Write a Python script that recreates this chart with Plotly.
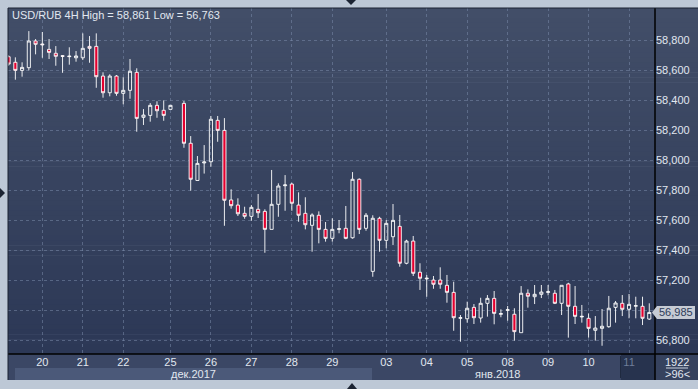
import plotly.graph_objects as go

# ---- data (USD/RUB 4H candles, index = candle slot; slot 25 empty) ----
idx = [0,1,2,3,4,5,6,7,8,9,10,11,12,13,14,15,16,17,18,19,20,21,22,23,24,
       26,27,28,29,30,31,32,33,34,35,36,37,38,39,40,41,42,43,44,45,46,47,48,49,50,
       51,52,53,54,55,56,57,58,59,60,61,62,63,64,65,66,67,68,69,70,71,72,73,74,75,
       76,77,78,79,80,81,82,83,84,85,86,87,88,89,90,91,92,93,94,95]
opens = [58690,58653,58599,58617,58795,58775,58739,58713,58697,58695,58683,58683,58759,58759,58561,58450,58561,58446,58466,58586,58286,58299,58366,58333,58339,
         58379,58113,57865,57982,57990,58266,58199,57735,57701,57646,57626,57673,57659,57539,57706,57830,57841,57701,57646,57566,57633,57539,57479,57539,57546,
         57483,57873,57546,57259,57613,57466,57490,57559,57313,57461,57253,57209,57201,57201,57166,57119,56946,56943,57019,56948,57046,57079,56973,56999,56973,
         56850,57113,57090,57106,57119,57113,57046,57175,57026,56955,56946,56866,56879,56890,57019,57046,57006,57027,57026,56941]
highs = [58700,58686,58653,58861,58808,58855,58808,58761,58701,58753,58728,58846,58828,58846,58586,58573,58568,58553,58675,58613,58341,58381,58393,58399,58366,
         58395,58161,58028,58101,58295,58295,58281,57806,57746,57690,57701,57775,57673,57935,57846,57901,57850,57786,57753,57646,57659,57588,57613,57601,57695,
         57921,57879,57648,57633,57623,57601,57708,57635,57470,57495,57313,57235,57228,57286,57235,57190,56968,57057,57041,57083,57101,57128,57006,57028,57013,
         57161,57139,57168,57168,57168,57135,57166,57183,57161,57035,56979,56961,57008,57095,57061,57101,57108,57090,57090,57046]
lows = [58630,58537,58557,58599,58706,58683,58675,58630,58583,58637,58657,58668,58650,58483,58417,58426,58430,58373,58410,58190,58235,58257,58283,58263,58339,
        58083,57797,57865,57911,57957,58123,57563,57677,57628,57610,57597,57615,57383,57539,57623,57663,57663,57590,57539,57390,57446,57457,57457,57513,57473,
        57477,57508,57530,57223,57390,57413,57435,57290,57306,57228,57135,57090,57143,57143,57050,56863,56790,56917,56908,56917,56957,56906,56953,56930,56797,
        56850,57017,57041,57081,57099,57041,56968,56817,56908,56917,56817,56797,56763,56883,56917,56961,56946,56946,56901,56935]
closes = [58641,58599,58619,58795,58773,58770,58719,58693,58693,58691,58695,58746,58746,58557,58450,58561,58446,58466,58593,58279,58301,58366,58330,58299,58366,
          58113,57873,57979,57988,58273,58199,57733,57697,57643,57626,57686,57650,57539,57706,57828,57835,57713,57633,57570,57635,57539,57479,57539,57543,57479,
          57873,57539,57633,57613,57466,57579,57599,57313,57461,57246,57213,57213,57173,57173,57119,56950,56950,57013,56950,57046,57079,56979,56977,57003,56857,
          57113,57093,57106,57121,57123,57046,57166,57026,56959,56959,56879,56881,56893,57013,57048,57006,57039,57030,56946,56985]

day_pos = [5, 11, 17, 24, 30, 36, 42, 48, 56, 62, 68, 74, 80, 86, 92]
day_labels = ["20", "21", "22", "25", "26", "27", "28", "29", "03", "04", "05", "08", "09", "10", "11"]
price_ticks = [56800, 57000, 57200, 57400, 57600, 57800, 58000, 58200, 58400, 58600, 58800]
title_text = "USD/RUB 4H"
month_labels = ["дек.2017", "янв.2018"]
bars_total = "1922"
bars_visible = ">96<"

# ---- geometry helpers (pixel -> paper) ----
W, H = 698, 389
PX0, PX1, PY0, PY1 = 8, 655, 8, 354


def fx(X):
    return (X - PX0) / (PX1 - PX0)


def fy(Y):
    return (PY1 - Y) / (PY1 - PY0)


def rect(x0, y0, x1, y1, color, line=None):
    return dict(type="rect", xref="paper", yref="paper", x0=fx(x0), x1=fx(x1), y0=fy(y1), y1=fy(y0),
                fillcolor=color, line=dict(width=0) if line is None else line, layer="below")


def hline(x0, x1, y, color, w=1):
    return dict(type="line", xref="paper", yref="paper", x0=fx(x0), x1=fx(x1), y0=fy(y), y1=fy(y),
                line=dict(color=color, width=w), layer="above")


def vline(x, y0, y1, color, w=1):
    return dict(type="line", xref="paper", yref="paper", x0=fx(x), x1=fx(x), y0=fy(y0), y1=fy(y1),
                line=dict(color=color, width=w), layer="above")


def poly(pts, color):
    d = "M " + " L ".join(f"{fx(a):.5f},{fy(b):.5f}" for a, b in pts) + " Z"
    return dict(type="path", xref="paper", yref="paper", path=d, fillcolor=color, line=dict(width=0), layer="above")


shapes = []
# gradient background for plot + right axis area
N = 70
c0 = (66, 78, 104)
c1 = (44, 56, 86)
for k in range(N):
    t = k / (N - 1)
    col = "rgb(%d,%d,%d)" % tuple(round(c0[j] + (c1[j] - c0[j]) * t) for j in range(3))
    ya = PY0 + (PY1 - PY0) * k / N
    yb = PY0 + (PY1 - PY0) * (k + 1) / N + 0.6
    shapes.append(rect(PX0, ya, W, yb, col))

# bottom axis strip
shapes.append(rect(PX0, 354, 655, 380, "#3b4765"))
shapes.append(rect(15, 368, 372, 380, "#4b5979"))
shapes.append(rect(621, 354, 655, 380, "#27334e"))
shapes.append(rect(655, 354, W, 380, "#36425e"))
# frame lines
shapes.append(hline(PX0, W, 354, "#000000", 1.5))
shapes.append(vline(655, 8, 380, "#000000", 1.5))
shapes.append(hline(PX0, W, 8, "#1a2233", 1))
shapes.append(vline(PX0, 8, 380, "#1a2233", 1))
shapes.append(vline(620.5, 356, 378, "#1f2a40", 1))
shapes.append(hline(666, 688, 368, "#c9d2df", 1))
# small navigation triangles on the border
shapes.append(poly([(346, 0), (356, 0), (351, 5)], "#1c2433"))
shapes.append(poly([(347, 389), (357, 389), (352, 383)], "#1c2433"))
shapes.append(poly([(0, 188), (0, 198), (5, 193)], "#1c2433"))

# current price label (arrow box) in data y
last = closes[-1]
hh = 43
shapes.append(dict(type="path", xref="paper", yref="y",
                   path=(f"M {fx(652):.5f},{last} L {fx(657):.5f},{last + hh} L {fx(695):.5f},{last + hh} "
                         f"L {fx(695):.5f},{last - hh} L {fx(657):.5f},{last - hh} Z"),
                   fillcolor="#c6cbd4", line=dict(width=0), layer="above"))

FONT = "Liberation Sans, Arial, sans-serif"
LIGHT = "#e1e7f0"

fig = go.Figure()
fig.add_trace(go.Candlestick(
    x=idx, open=opens, high=highs, low=lows, close=closes,
    increasing=dict(line=dict(color="#ffffff", width=0.9), fillcolor="rgba(0,0,0,0)"),
    decreasing=dict(line=dict(color="#ffffff", width=0.9), fillcolor="#e4002f"),
    whiskerwidth=0, showlegend=False, hoverinfo="skip", opacity=1))

annotations = [
    dict(xref="paper", yref="paper", x=fx(10), y=fy(15), xanchor="left", yanchor="middle",
         text=f"{title_text} High = {max(highs):,} Low = {min(lows):,}", showarrow=False,
         font=dict(family=FONT, size=11, color=LIGHT)),
    dict(xref="paper", yref="paper", x=fx(193), y=fy(374), xanchor="center", yanchor="middle",
         text=month_labels[0], showarrow=False, font=dict(family=FONT, size=11, color=LIGHT)),
    dict(xref="paper", yref="paper", x=fx(497), y=fy(374), xanchor="center", yanchor="middle",
         text=month_labels[1], showarrow=False, font=dict(family=FONT, size=11, color=LIGHT)),
    dict(xref="paper", yref="paper", x=fx(677), y=fy(361.5), xanchor="center", yanchor="middle",
         text=bars_total, showarrow=False, font=dict(family=FONT, size=11, color=LIGHT)),
    dict(xref="paper", yref="paper", x=fx(677), y=fy(374), xanchor="center", yanchor="middle",
         text=bars_visible, showarrow=False, font=dict(family=FONT, size=11, color=LIGHT)),
    dict(xref="paper", yref="y", x=fx(676.5), y=last, xanchor="center", yanchor="middle",
         text=f"{last:,}", showarrow=False, font=dict(family=FONT, size=11, color="#2e3c5a")),
]

ticktext = [l if l != "11" else '<span style="color:#6f7d99">11</span>' for l in day_labels]
# the price tag hides the tick label it sits on
ytext = ["" if abs(v - last) < 60 else f"{v:,}" for v in price_ticks]

fig.update_layout(
    width=W, height=H,
    margin=dict(l=PX0, r=W - PX1, t=PY0, b=H - PY1, pad=0),
    paper_bgcolor="#bdc8d6", plot_bgcolor="rgba(0,0,0,0)",
    shapes=shapes, annotations=annotations,
    boxgap=0.34,
    xaxis=dict(range=[-0.09, 95.85], rangeslider=dict(visible=False), tickmode="array",
               tickvals=day_pos, ticktext=ticktext, showgrid=True, gridcolor="rgba(120,136,168,0.55)",
               griddash="3px,3px", gridwidth=1, zeroline=False, showline=False, ticks="",
               tickfont=dict(family=FONT, size=11, color=LIGHT), fixedrange=True),
    yaxis=dict(range=[56708, 59015], side="right", tickmode="array", tickvals=price_ticks,
               ticktext=ytext, showgrid=True, gridcolor="rgba(120,136,168,0.55)", griddash="3px,3px",
               gridwidth=1, zeroline=False, showline=False, ticks="",
               tickfont=dict(family=FONT, size=11, color=LIGHT), fixedrange=True),
    font=dict(family=FONT),
    hovermode=False,
)

fig.write_html("out.html")
